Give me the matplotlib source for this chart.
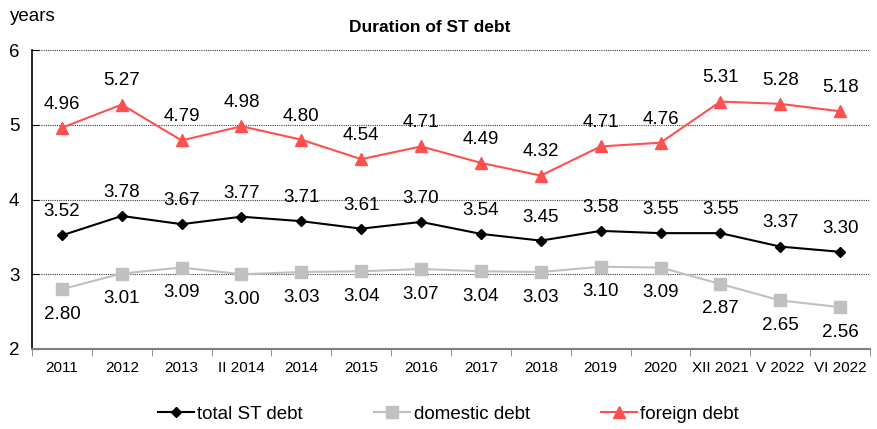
import numpy as np
import matplotlib.pyplot as plt

plt.rcParams["font.family"] = ["Liberation Sans", "DejaVu Sans"]

categories = ["2011", "2012", "2013", "II 2014", "2014", "2015", "2016", "2017",
              "2018", "2019", "2020", "XII 2021", "V 2022", "VI 2022"]
total_st = [3.52, 3.78, 3.67, 3.77, 3.71, 3.61, 3.70, 3.54, 3.45, 3.58, 3.55, 3.55, 3.37, 3.30]
domestic = [2.80, 3.01, 3.09, 3.00, 3.03, 3.04, 3.07, 3.04, 3.03, 3.10, 3.09, 2.87, 2.65, 2.56]
foreign = [4.96, 5.27, 4.79, 4.98, 4.80, 4.54, 4.71, 4.49, 4.32, 4.71, 4.76, 5.31, 5.28, 5.18]

RED = "#ff5050"
GRAY = "#c0c0c0"

fig = plt.figure(figsize=(8.78, 4.29), dpi=100)
ax = fig.add_axes([0.0364, 0.1865, 0.9546, 0.6969])

x = np.arange(len(categories))

ax.plot(x, total_st, color="black", marker="D", markersize=5.5, linewidth=1.5, label="total ST debt")
ax.plot(x, domestic, color=GRAY, marker="s", markersize=8, linewidth=1.5, label="domestic debt")
ax.plot(x, foreign, color=RED, marker="^", markersize=9, linewidth=1.5, label="foreign debt")

for xi, v in zip(x, total_st):
    ax.annotate(f"{v:.2f}", (xi, v), xytext=(0, 17), textcoords="offset points",
                ha="center", va="center", fontsize=13.5)
for xi, v in zip(x, domestic):
    ax.annotate(f"{v:.2f}", (xi, v), xytext=(0, -18), textcoords="offset points",
                ha="center", va="center", fontsize=13.5)
for xi, v in zip(x, foreign):
    ax.annotate(f"{v:.2f}", (xi, v), xytext=(0, 17), textcoords="offset points",
                ha="center", va="center", fontsize=13.5)

ax.set_xlim(-0.5, len(categories) - 0.5)
ax.set_ylim(2, 6)
ax.set_yticks([2, 3, 4, 5, 6])
ax.tick_params(axis="y", labelsize=13.5, length=5, direction="in", pad=9)
ax.set_xticks(x)
ax.set_xticklabels(categories, fontsize=11)
ax.tick_params(axis="x", length=0, pad=9)
ax.set_xticks(np.arange(len(categories) + 1) - 0.5, minor=True)
ax.tick_params(axis="x", which="minor", length=5, direction="out", color="#808080")
ax.yaxis.grid(True, linestyle=(0, (1, 1)), color="#404040", linewidth=0.8)
ax.set_axisbelow(True)

for side in ["top", "right"]:
    ax.spines[side].set_visible(False)
ax.spines["bottom"].set_color("#808080")
ax.spines["bottom"].set_linewidth(1.5)
ax.spines["left"].set_linewidth(1.2)

fig.text(0.011, 0.962, "years", fontsize=13.5, ha="left", va="center")
fig.text(0.49, 0.935, "Duration of ST debt", fontsize=12.5, fontweight="bold", ha="center", va="center")

fig.legend(loc="center", bbox_to_anchor=(0.511, 0.035), ncol=3, frameon=False,
           fontsize=13.5, handlelength=1.9, columnspacing=3.8, handletextpad=0.2)

fig.savefig("out.png", dpi=100)
